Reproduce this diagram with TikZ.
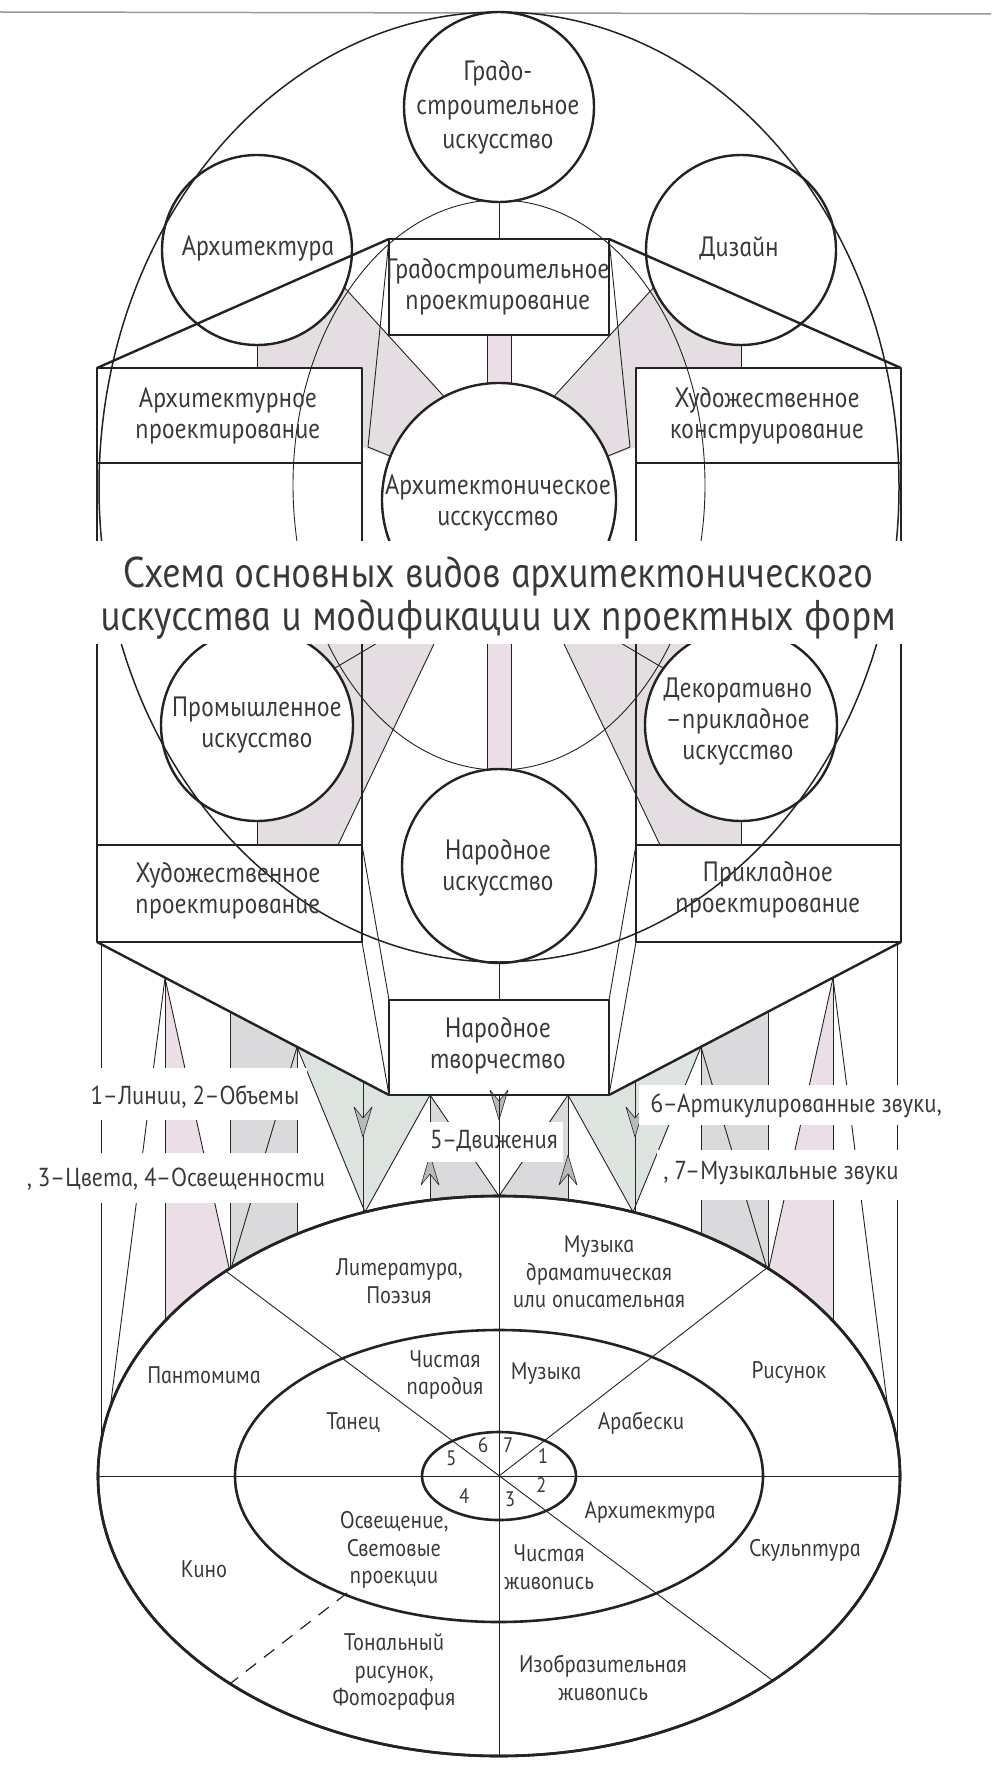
\documentclass[tikz,border=0pt]{standalone}
\usepackage{fontspec}
\newfontfamily\gost{PT Sans}[UprightFont={* Italic},FakeSlant=-0.2,FakeStretch=0.92]
\usetikzlibrary{calc}
\definecolor{ink}{HTML}{232323}
\definecolor{txt}{HTML}{383838}
\definecolor{shA}{HTML}{E4DDE2}
\definecolor{shB}{HTML}{DDE3DE}
\definecolor{shC}{HTML}{EBDEE7}
\definecolor{shD}{HTML}{DADADC}
\tikzset{
  thinl/.style={ink, line width=0.9pt},
  medl/.style={ink, line width=1.5pt},
  thickl/.style={ink, line width=2.4pt},
  circ/.style={ink, line width=2.4pt, fill=white},
  boxl/.style={ink, line width=2.4pt},
  lbl/.style={font=\gost\fontsize{28}{31}\selectfont, text=txt, align=center, inner sep=0pt},
  slbl/.style={font=\gost\fontsize{24}{27.5}\selectfont, text=txt, align=center, inner sep=0pt},
  nlbl/.style={font=\gost\fontsize{21}{24}\selectfont, text=txt, inner sep=0pt},
  leg/.style={font=\gost\fontsize{26}{28}\selectfont, text=txt, inner sep=0pt},
  ttl/.style={font=\gost\fontsize{43}{44}\selectfont, text=txt, inner sep=0pt},
  band/.style={fill=white},
  arr/.style={fill=gray!55, draw=ink, line width=0.6pt},
}
\newcommand\sideShade{%
  \fill[shA] (333,275) -- (388,335) -- (450,403) -- (460,420) -- (395,459) -- (362,447) -- (362,368) -- (257,368) -- (257,320) -- cycle;
  \fill[shA] (257,790) -- (257,845) -- (338,845) -- (455,600) -- (300,600) -- (300,700) -- cycle;
}
\newcommand\sideThin{%
  \draw[thinl] (333,275) -- (450,403);
  \draw[thinl] (389,239) -- (368,447) -- (395,458);
  \draw[thinl] (257,330) -- (257,368);
  \draw[thinl] (257,800) -- (257,845);
  \draw[thinl] (455,600) -- (338,845);
  \draw[thinl] (335,668) -- (450,600);
  \draw[thinl] (362,845) -- (389,1000);
  \draw[thinl] (362,942) -- (389,1095);
  \draw[medl] (97,463) -- (97,845);
  \draw[medl] (362,463) -- (362,845);
}
\newcommand\sideThick{%
  \draw[thickl] (97,368) -- (389,239);
  \draw[thickl] (97,942) -- (389,1095);
}
\newcommand\dnArr[2]{\fill[arr] (#1,#2) -- ++(-9,-30) -- ++(9,11) -- ++(9,-11) -- cycle;}
\newcommand\upArr[2]{\fill[arr] (#1,#2) -- ++(-9,30) -- ++(9,-11) -- ++(9,11) -- cycle;}
\newcommand\legShade{%
  \fill[shC] (165,978) -- (230,1272) -- (230,1345) -- (165,1345) -- cycle;
  \fill[shD] (230,1012) -- (297,1047) -- (297,1300) -- (230,1300) -- cycle;
  \fill[shB] (297,1047) -- (363,1081) -- (365,1212) -- cycle;
  \fill[shB] (363,1081) -- (389,1095) -- (430,1095) -- (365,1212) -- cycle;
  \fill[shD] (430,1095) -- (499,1196) -- (430,1205) -- cycle;
}
\newcommand\legLines{%
  \draw[thinl] (101,942) -- (101,1450);
  \draw[thinl] (165,978) -- (165,1330);
  \draw[thinl] (230,1012) -- (230,1280);
  \draw[thinl] (297,1047) -- (297,1245);
  \draw[thinl] (363,1081) -- (363,1215);
  \draw[thinl] (430,1095) -- (430,1205);
  \draw[thinl] (108,1425) -- (165,978) -- (230,1272) -- (297,1047) -- (365,1212) -- (430,1095) -- (499,1196);
  \dnArr{363}{1137}
  \upArr{430}{1155}
}
\begin{document}
\begin{tikzpicture}[x=1pt,y=-1pt,line join=round]
\useasboundingbox (0,0) rectangle (991,1771);
\fill[white] (0,0) rectangle (991,1771);
\draw[gray!80, line width=1.5pt] (0,12) -- (991,14);

% shading
\sideShade
\begin{scope}[shift={(998,0)},xscale=-1]\sideShade\end{scope}
\fill[shC] (487,335) rectangle (511,385);
\fill[shC] (487,640) rectangle (511,772);

% inner thin ellipse
\draw[thinl] (499,485) ellipse [x radius=206, y radius=285];

% thin lines
\sideThin
\begin{scope}[shift={(998,0)},xscale=-1]\sideThin\end{scope}
\draw[thinl] (499,200) -- (499,239);
\draw[thinl] (499,963) -- (499,1000);
\draw[thinl] (487,335) -- (487,385) (511,335) -- (511,385);
\draw[thinl] (487,640) -- (487,772) (511,640) -- (511,772);

% legend area
\legShade
\begin{scope}[shift={(998,0)},xscale=-1]\legShade\end{scope}
\legLines
\begin{scope}[shift={(998,0)},xscale=-1]\legLines\end{scope}
\dnArr{499}{1120}

% circles
\draw[circ] (499,107) circle [radius=95];
\draw[circ] (257,250) circle [radius=95];
\draw[circ] (741,250) circle [radius=95];
\draw[circ] (499,500) circle [radius=117];
\draw[circ] (257,725) circle [radius=96];
\draw[circ] (741,725) circle [radius=96];
\draw[circ] (499,866) circle [radius=97];

% outer ellipse (visible across the side circles)
\draw[medl] (499,487) ellipse [x radius=400, y radius=475];

% thick lines
\sideThick
\begin{scope}[shift={(998,0)},xscale=-1]\sideThick\end{scope}

% boxes
\draw[boxl] (389,239) rectangle (609,335);
\draw[boxl] (97,368) rectangle (362,463);
\draw[boxl] (636,368) rectangle (901,463);
\draw[boxl] (97,845) rectangle (362,942);
\draw[boxl] (636,845) rectangle (901,942);
\draw[boxl] (389,1000) rectangle (609,1095);

% title band
\fill[band] (76,541) rectangle (910,644);
\node[ttl, anchor=base] (title1) at (500,587) {Схема основных видов архитектонического};
\node[ttl, anchor=base] (title2) at (500,630) {искусства и модификации их проектных форм};

% legend bands
\fill[band] (87,1068) rectangle (307,1120);
\fill[band] (20,1153) rectangle (333,1203);
\fill[band] (423,1122) rectangle (563,1162);
\fill[band] (639,1085) rectangle (955,1125);
\fill[band] (657,1150) rectangle (915,1200);
\node[leg] (l12) at (196,1097) {1–Линии, 2–Объемы};
\node[leg] (l34) at (177,1179) {, 3–Цвета, 4–Освещенности};
\node[leg] (l5) at (495,1141) {5–Движения};
\node[leg] (l6) at (797,1106) {6–Артикулированные звуки,};
\node[leg] (l7) at (782,1173) {, 7–Музыкальные звуки};

% bottom diagram
\draw[ink, line width=2.6pt, fill=white] (499,1476) ellipse [x radius=401, y radius=280];
\draw[thinl] (499,1095) -- (499,1756);
\draw[thinl] (98,1476) -- (900,1476);
\draw[thinl] (227,1272) -- (772,1680);
\draw[thinl] (768,1267) -- (499,1476);
\draw[ink, line width=1.2pt, dash pattern=on 13pt off 10pt] (347,1593) -- (231,1683);
\draw[ink, line width=2.6pt] (499,1476) ellipse [x radius=401, y radius=280];
\draw[ink, line width=2.6pt] (499,1476) ellipse [x radius=264, y radius=146];
\draw[ink, line width=2.6pt] (499,1476) ellipse [x radius=77, y radius=44];

% top labels
\node[lbl, font=\gost\fontsize{28}{34}\selectfont] (tgrado) at (499,107) {Градо-\\строительное\\искусство};
\node[lbl] (tarch) at (259,248) {Архитектура};
\node[lbl] (tdiz) at (740,248) {Дизайн};
\node[lbl] (tgradpr) at (499,287) {Градостроительное\\проектирование};
\node[lbl] (tarchpr) at (229,416) {Архитектурное\\проектирование};
\node[lbl] (thudk) at (768,416) {Художественное\\конструирование};
\node[lbl] (tarchit) at (499,503) {Архитектоническое\\исскусство};
\node[lbl] (tprom) at (258,725) {Промышленное\\искусство};
\node[lbl] (tdekor) at (739,722) {Декоративно\\–прикладное\\искусство};
\node[lbl] (tnarisk) at (499,868) {Народное\\искусство};
\node[lbl] (thudpr) at (229,891) {Художественное\\проектирование};
\node[lbl] (tprikl) at (769,890) {Прикладное\\проектирование};
\node[lbl] (tnartv) at (499,1046) {Народное\\творчество};

% bottom labels
\node[slbl] (blit) at (400,1281) {Литература,\\Поэзия};
\node[slbl] (bmusd) at (600,1272) {Музыка\\драматическая\\или описательная};
\node[slbl] (bpant) at (205,1375) {Пантомима};
\node[slbl] (bris) at (790,1372) {Рисунок};
\node[slbl] (bpar) at (446,1375) {Чистая\\пародия};
\node[slbl] (bmus) at (547,1374) {Музыка};
\node[slbl] (btan) at (354,1423) {Танец};
\node[slbl] (barab) at (642,1423) {Арабески};
\node[slbl] (barch) at (651,1512) {Архитектура};
\node[slbl] (bosv) at (395,1550) {Освещение,\\Световые\\проекции};
\node[slbl] (bziv) at (550,1567) {Чистая\\живопись};
\node[slbl] (bkino) at (205,1569) {Кино};
\node[slbl] (bskul) at (806,1550) {Скульптура};
\node[slbl] (bton) at (395,1672) {Тональный\\рисунок,\\Фотография};
\node[slbl] (bizo) at (604,1678) {Изобразительная\\живопись};
\node[nlbl] (n5) at (452,1458) {5};
\node[nlbl] (n6) at (484,1445) {6};
\node[nlbl] (n7) at (509,1445) {7};
\node[nlbl] (n1) at (544,1456) {1};
\node[nlbl] (n2) at (542,1485) {2};
\node[nlbl] (n3) at (511,1499) {3};
\node[nlbl] (n4) at (465,1496) {4};
\end{tikzpicture}
\end{document}
